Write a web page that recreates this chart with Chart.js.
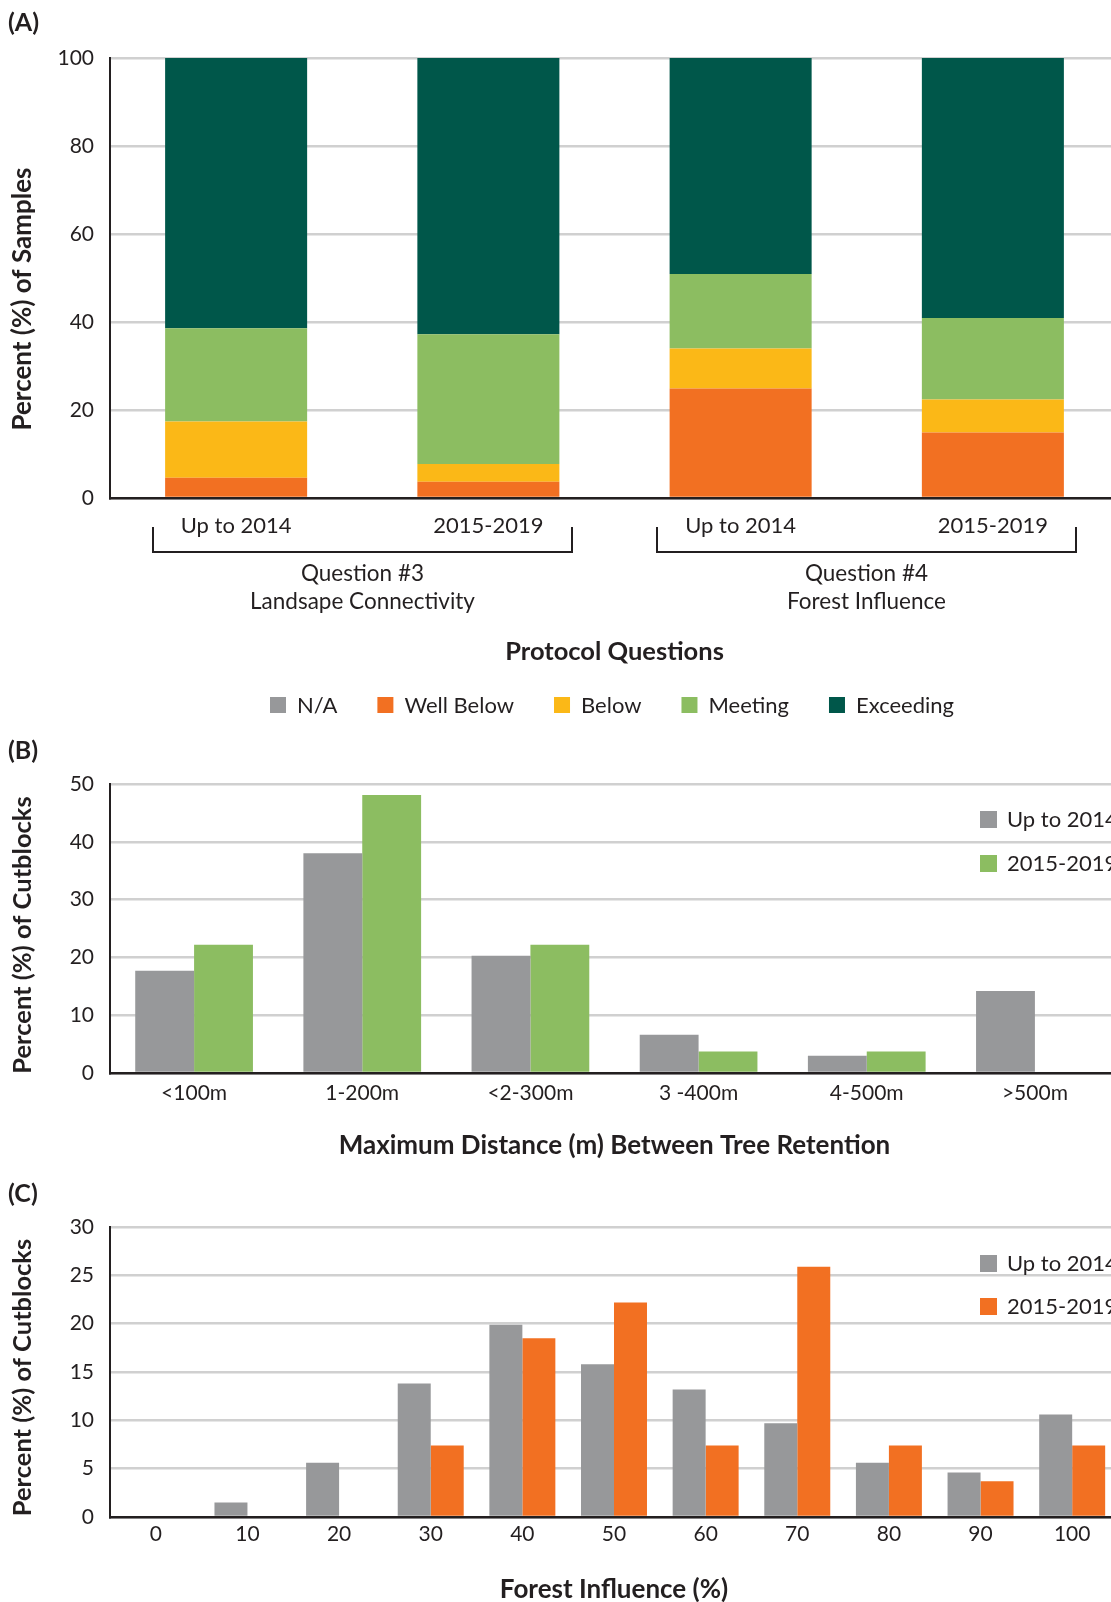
<!DOCTYPE html>
<html>
<head>
<meta charset="utf-8">
<title>Protocol questions, retention distance and forest influence</title>
<script src="https://cdn.jsdelivr.net/npm/chart.js@4.4.1/dist/chart.umd.min.js"></script>
<style>
  html, body { margin: 0; padding: 0; background: #fff; }
  #page { position: relative; width: 1111px; height: 1602px; overflow: hidden; }
  .panel { position: absolute; left: 0; }
  .panel canvas { display: block; }
</style>
</head>
<body>
<div id="page">
  <div class="panel" style="top:0"><canvas id="chartA" width="1130" height="730"></canvas></div>
  <div class="panel" style="top:730px"><canvas id="chartB" width="1130" height="440"></canvas></div>
  <div class="panel" style="top:1170px"><canvas id="chartC" width="1130" height="432"></canvas></div>
</div>
<script>
//-----------------------------------------------------------------------------
// data
//-----------------------------------------------------------------------------

// (A) protocol questions, stacked percent of samples
var periodLabels = ['Up to 2014', '2015-2019', 'Up to 2014', '2015-2019'];
var questionLabels = [['Question #3', 'Landsape Connectivity'], ['Question #4', 'Forest Influence']];
var ratingNames = ['N/A', 'Well Below', 'Below', 'Meeting', 'Exceeding'];
var naValues = [0, 0, 0, 0];
var wellBelowValues = [4.6, 3.7, 24.9, 14.9];
var belowValues = [12.8, 4.0, 9.1, 7.5];
var meetingValues = [21.2, 29.5, 16.9, 18.5];
var exceedingValues = [61.4, 62.8, 49.1, 59.1];
var percentTicksA = [0, 20, 40, 60, 80, 100];

// (B) maximum distance between tree retention
var distanceLabels = ['<100m', '1-200m', '<2-300m', '3 -400m', '4-500m', '>500m'];
var distanceEarly = [17.7, 38.0, 20.3, 6.6, 3.0, 14.2];
var distanceLate = [22.2, 48.1, 22.2, 3.7, 3.7, 0];
var percentTicksB = [0, 10, 20, 30, 40, 50];

// (C) forest influence
var influenceLabels = ['0', '10', '20', '30', '40', '50', '60', '70', '80', '90', '100'];
var influenceEarly = [0, 1.5, 5.6, 13.8, 19.9, 15.8, 13.2, 9.7, 5.6, 4.6, 10.6];
var influenceLate = [0, 0, 0, 7.4, 18.5, 22.2, 7.4, 25.9, 7.4, 3.7, 7.4];
var percentTicksC = [0, 5, 10, 15, 20, 25, 30];

var periodNames = ['Up to 2014', '2015-2019'];

//-----------------------------------------------------------------------------
// look
//-----------------------------------------------------------------------------
var FONT = 'Lato';
var INK = '#231f20';
var GRID = '#d0d0d0';
var GRAY = '#97989a';
var ratingColors = ['#97989a', '#f27022', '#fbb817', '#8cbd61', '#00574a'];

Chart.defaults.font.family = FONT;
Chart.defaults.color = INK;

// text helper, y is the middle of the capitals
function text(ctx, str, x, y, size, bold, align, rotate) {
  ctx.save();
  ctx.font = (bold ? 'bold ' : '') + size + 'px ' + FONT;
  ctx.fillStyle = INK;
  ctx.textAlign = align || 'center';
  ctx.textBaseline = 'alphabetic';
  if (rotate) {
    ctx.translate(x, y);
    ctx.rotate(-Math.PI / 2);
    ctx.fillText(str, 0, 0);
  } else {
    ctx.fillText(str, x, y + size * 0.36);
  }
  ctx.restore();
}

// legend in one row, centred on cx
function rowLegend(chart, cx, cy, size) {
  var ctx = chart.ctx, box = 16, gapText = 11, gapItem = 40;
  ctx.save();
  ctx.font = size + 'px ' + FONT;
  var sets = chart.data.datasets;
  var widths = sets.map(function(d) { return ctx.measureText(d.label).width; });
  var total = 0;
  widths.forEach(function(w) { total += box + gapText + w; });
  total += gapItem * (sets.length - 1);
  var x = cx - total / 2;
  sets.forEach(function(d, i) {
    ctx.fillStyle = d.backgroundColor;
    ctx.fillRect(x, cy - box / 2, box, box);
    text(ctx, d.label, x + box + gapText, cy, size, false, 'left');
    x += box + gapText + widths[i] + gapItem;
  });
  ctx.restore();
}

// legend as a column, top right inside the plot
function columnLegend(chart, x, ys, size) {
  var ctx = chart.ctx, box = 17;
  chart.data.datasets.forEach(function(d, i) {
    ctx.fillStyle = d.backgroundColor;
    ctx.fillRect(x, ys[i] - box / 2, box, box);
    text(ctx, d.label, x + box + 10, ys[i], size, false, 'left');
  });
}

function barOptions(cfg) {
  return {
    responsive: false,
    animation: false,
    layout: { padding: { left: 0, top: cfg.top, right: cfg.right, bottom: cfg.bottom } },
    plugins: { legend: { display: false }, tooltip: { enabled: false }, title: { display: false } },
    datasets: { bar: { barPercentage: 1, categoryPercentage: cfg.catPct, borderWidth: 0 } },
    scales: {
      x: {
        stacked: !!cfg.stacked,
        z: 1,
        grid: { display: false, drawTicks: false },
        border: { display: true, color: INK, width: 2.5 },
        ticks: { font: { size: cfg.xSize }, padding: cfg.xPad, maxRotation: 0, autoSkip: false, color: INK },
        afterFit: function(scale) { scale.height = 40; }
      },
      y: {
        stacked: !!cfg.stacked,
        min: 0,
        max: cfg.ticks[cfg.ticks.length - 1],
        afterBuildTicks: function(scale) {
          scale.ticks = cfg.ticks.map(function(v) { return { value: v }; });
        },
        grid: { color: GRID, lineWidth: 2.5, drawTicks: false },
        border: { display: true, color: INK, width: 2 },
        ticks: { font: { size: 21 }, padding: 16, color: INK },
        afterFit: function(scale) { scale.width = 110; }
      }
    }
  };
}

//-----------------------------------------------------------------------------
// (A)
//-----------------------------------------------------------------------------
new Chart(document.getElementById('chartA'), {
  type: 'bar',
  data: {
    labels: periodLabels,
    datasets: [naValues, wellBelowValues, belowValues, meetingValues, exceedingValues].map(function(vals, i) {
      return { label: ratingNames[i], data: vals, backgroundColor: ratingColors[i] };
    })
  },
  options: barOptions({ top: 58, right: 11, bottom: 192, catPct: 0.563, stacked: true,
                        xSize: 22, xPad: 15, ticks: percentTicksA }),
  plugins: [{
    id: 'extrasA',
    afterDraw: function(chart) {
      var ctx = chart.ctx, xs = chart.scales.x, area = chart.chartArea;
      var cat = xs.width / periodLabels.length;
      text(ctx, '(A)', 8, 22, 25, true, 'left');
      text(ctx, 'Percent (%) of Samples', 31, 299, 26, true, 'center', true);

      // brackets grouping the two periods of each question
      ctx.save();
      ctx.strokeStyle = INK;
      ctx.lineWidth = 2;
      questionLabels.forEach(function(lines, g) {
        var x0 = Math.round(xs.getPixelForValue(2 * g) - 0.331 * cat);
        var x1 = Math.round(xs.getPixelForValue(2 * g + 1) + 0.331 * cat);
        ctx.beginPath();
        ctx.moveTo(x0, 527);
        ctx.lineTo(x0, 552);
        ctx.lineTo(x1, 552);
        ctx.lineTo(x1, 527);
        ctx.stroke();
        text(ctx, lines[0], (x0 + x1) / 2, 573, 22.5);
        text(ctx, lines[1], (x0 + x1) / 2, 601, 22.5);
      });
      ctx.restore();

      text(ctx, 'Protocol Questions', (area.left + area.right) / 2, 651, 25.5, true);
      rowLegend(chart, 612, 705, 22);
    }
  }]
});

//-----------------------------------------------------------------------------
// (B)
//-----------------------------------------------------------------------------
new Chart(document.getElementById('chartB'), {
  type: 'bar',
  data: {
    labels: distanceLabels,
    datasets: [
      { label: periodNames[0], data: distanceEarly, backgroundColor: GRAY },
      { label: periodNames[1], data: distanceLate, backgroundColor: ratingColors[3] }
    ]
  },
  options: barOptions({ top: 54, right: 11, bottom: 57, catPct: 0.70,
                        xSize: 21, xPad: 8, ticks: percentTicksB }),
  plugins: [{
    id: 'extrasB',
    afterDraw: function(chart) {
      var ctx = chart.ctx, area = chart.chartArea;
      text(ctx, '(B)', 8, 20, 25, true, 'left');
      text(ctx, 'Percent (%) of Cutblocks', 31, 205, 25.5, true, 'center', true);
      text(ctx, 'Maximum Distance (m) Between Tree Retention', (area.left + area.right) / 2, 415, 26, true);
      columnLegend(chart, 980, [89.5, 133.5], 22);
    }
  }]
});

//-----------------------------------------------------------------------------
// (C)
//-----------------------------------------------------------------------------
new Chart(document.getElementById('chartC'), {
  type: 'bar',
  data: {
    labels: influenceLabels,
    datasets: [
      { label: periodNames[0], data: influenceEarly, backgroundColor: GRAY },
      { label: periodNames[1], data: influenceLate, backgroundColor: ratingColors[1] }
    ]
  },
  options: barOptions({ top: 57, right: 12, bottom: 45, catPct: 0.72,
                        xSize: 21, xPad: 5, ticks: percentTicksC }),
  plugins: [{
    id: 'extrasC',
    afterDraw: function(chart) {
      var ctx = chart.ctx, area = chart.chartArea;
      text(ctx, '(C)', 8, 23, 25, true, 'left');
      text(ctx, 'Percent (%) of Cutblocks', 31, 207.5, 25.5, true, 'center', true);
      text(ctx, 'Forest Influence (%)', (area.left + area.right) / 2, 419, 26, true);
      columnLegend(chart, 980, [93.5, 136.5], 22);
    }
  }]
});
</script>
</body>
</html>
